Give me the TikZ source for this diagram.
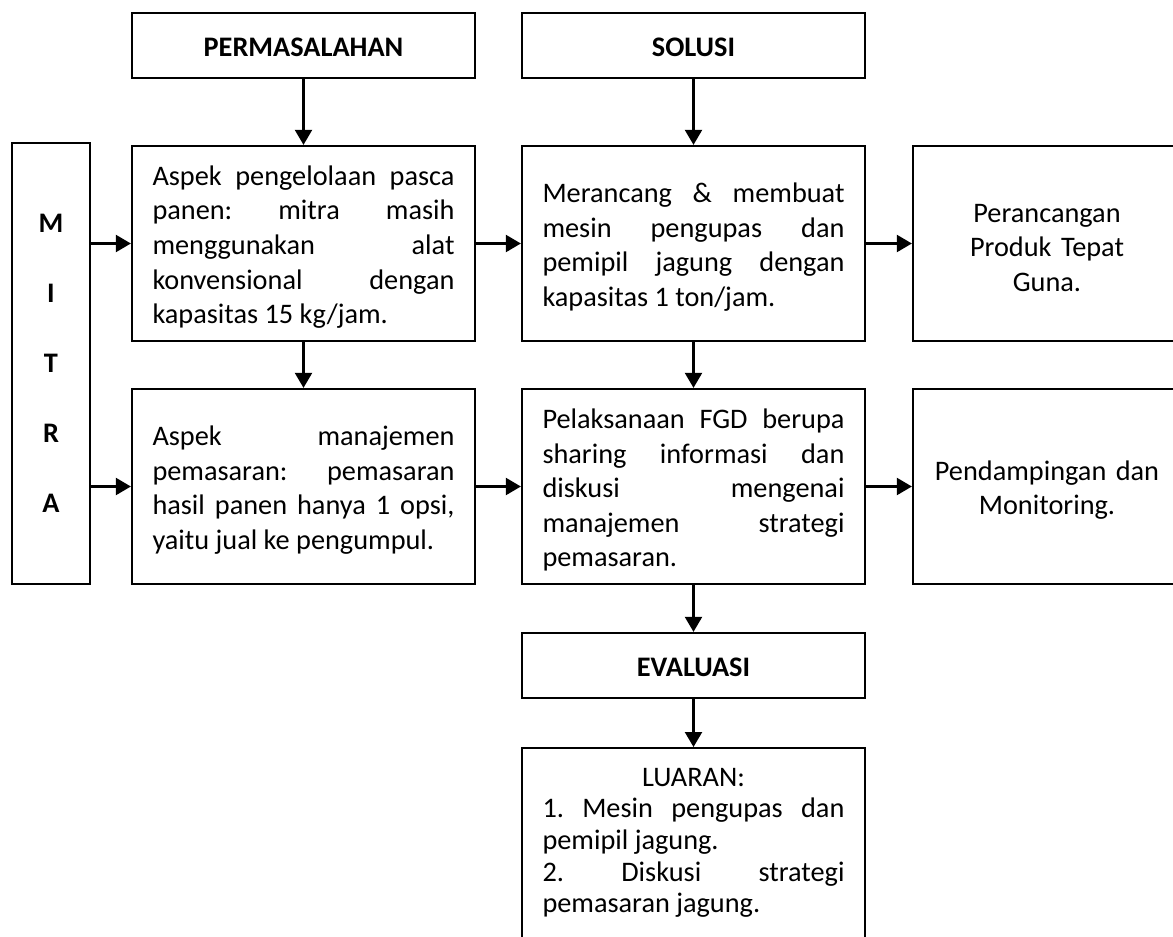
\documentclass[tikz,border=0pt]{standalone}
\usepackage{fontspec}
\setmainfont{Carlito}
\usetikzlibrary{arrows.meta}
\tikzset{
	kotak/.style={draw, line width=2.3pt, text width=302pt, inner xsep=20.5pt, inner ysep=0pt, minimum height=195pt, text height=27pt, align=justify, font=\fontsize{28.3}{34.6}\selectfont\frenchspacing},
	judul/.style={draw, line width=2.3pt, minimum width=343pt, minimum height=65pt, inner sep=0pt, text height=23pt, font=\fontsize{28.3}{34}\selectfont\bfseries},
	kanan/.style={draw, line width=2.3pt, text width=226pt, inner xsep=21pt, inner ysep=0pt, minimum height=195pt, text height=27pt, align=center, font=\fontsize{28.3}{34.6}\selectfont},
	panah/.style={line width=2.3pt, -{Triangle[length=15pt,width=17pt]}}
}
\begin{document}
\begin{tikzpicture}[x=1pt, y=-1pt]
	\def\ka{303.5}
	\def\kb{693.5}
	\def\kc{1047}
	\def\ba{243.5}
	\def\bb{486.5}
	\useasboundingbox (0,0) rectangle (1173,937);
	\clip (0,0) rectangle (1173,937);
	\node[judul] (masalah) at (\ka,45.5) {PERMASALAHAN};
	\node[judul] (solusi) at (\kb,45.5) {SOLUSI};
	\node[draw, line width=2.3pt, minimum width=78pt, minimum height=441pt, inner sep=0pt, align=center, font=\fontsize{28.3}{35}\selectfont\bfseries] (mitra) at (51,363.5) {M\\[35pt]I\\[35pt]T\\[35pt]R\\[35pt]A};
	\node[kotak] (aspeka) at (\ka,\ba) {Aspek pengelolaan pasca\linebreak panen: mitra masih\linebreak menggunakan alat\linebreak konvensional dengan\linebreak kapasitas 15 kg/jam.};
	\node[kotak] (rancang) at (\kb,\ba) {Merancang \& membuat\linebreak mesin pengupas dan\linebreak pemipil jagung dengan\linebreak kapasitas 1 ton/jam.};
	\node[kanan] (produk) at (\kc,\ba) {Perancangan\\Produk Tepat\\Guna.};
	\node[kotak] (aspekb) at (\ka,\bb) {Aspek manajemen\linebreak pemasaran: pemasaran\linebreak hasil panen hanya 1 opsi,\linebreak yaitu jual ke pengumpul.};
	\node[kotak] (fgd) at (\kb,\bb) {Pelaksanaan FGD berupa\linebreak sharing informasi dan\linebreak diskusi mengenai\linebreak manajemen strategi\linebreak pemasaran.};
	\node[kanan] (damping) at (\kc,\bb) {Pendampingan dan\\Monitoring.};
	\node[judul] (evaluasi) at (\kb,665.5) {EVALUASI};
	\node[kotak, anchor=north, inner ysep=20pt, minimum height=0pt, text height=18pt, font=\fontsize{28.3}{31.7}\selectfont\frenchspacing] (luaran) at (\kb,747) {{\centering LUARAN:\par}1. Mesin pengupas dan\linebreak pemipil jagung.\par 2. Diskusi strategi\linebreak pemasaran jagung.\par\vspace*{30pt}};
	\draw[panah] (masalah) -- (aspeka);
	\draw[panah] (solusi) -- (rancang);
	\draw[panah] (aspeka) -- (aspekb);
	\draw[panah] (rancang) -- (fgd);
	\draw[panah] (fgd) -- (evaluasi);
	\draw[panah] (evaluasi) -- (luaran);
	\draw[panah] (mitra.east |- aspeka.west) -- (aspeka.west);
	\draw[panah] (mitra.east |- aspekb.west) -- (aspekb.west);
	\draw[panah] (aspeka) -- (rancang);
	\draw[panah] (rancang) -- (produk);
	\draw[panah] (aspekb) -- (fgd);
	\draw[panah] (fgd) -- (damping);
\end{tikzpicture}
\end{document}
